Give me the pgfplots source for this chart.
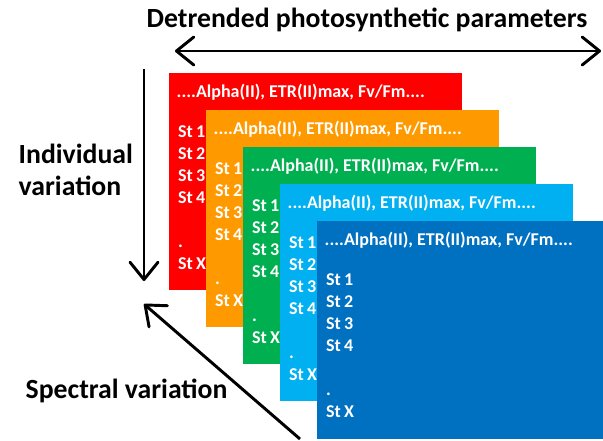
\documentclass[border=0pt]{standalone}
\usepackage{fontspec}
\setmainfont{Carlito}
\usepackage{pgfplots}
\pgfplotsset{compat=1.18}
\usetikzlibrary{arrows.meta}

\definecolor{cred}{HTML}{FF0000}
\definecolor{corange}{HTML}{FF9900}
\definecolor{cgreen}{HTML}{00B050}
\definecolor{clblue}{HTML}{00B0F0}
\definecolor{cdblue}{HTML}{0070C0}

\tikzset{
  ptxt/.style={anchor=base west, text=white, font=\fontsize{13.5}{15}\selectfont\bfseries},
  lbl/.style={anchor=base west, text=black, font=\fontsize{20.8}{22}\selectfont\bfseries},
  barb/.tip={Straight Barb[length=13pt,width=21pt,line cap=round,round]},
}

\newcommand\st[1]{St\hspace{0.17em}#1}

% text of one panel, #1 = left edge, #2 = top edge (pixels)
\newcommand\paneltext[2]{%
  \node[ptxt] at (axis cs:#1+3,#2+25) {....Alpha(II), ETR(II)max, Fv/Fm....};
  \node[ptxt] at (axis cs:#1+4.5,#2+64.5) {\st{1}};
  \node[ptxt] at (axis cs:#1+4.5,#2+86.5) {\st{2}};
  \node[ptxt] at (axis cs:#1+4.5,#2+108.5) {\st{3}};
  \node[ptxt] at (axis cs:#1+4.5,#2+130.5) {\st{4}};
  \node[ptxt] at (axis cs:#1+4.5,#2+174.5) {.};
  \node[ptxt] at (axis cs:#1+4.5,#2+196.5) {\st{X}};
}

\begin{document}
\begin{tikzpicture}
\begin{axis}[
    hide axis,
    scale only axis,
    width=452.25pt, height=329.25pt,
    xmin=0, xmax=603, ymin=0, ymax=439,
    y dir=reverse,
    clip=false,
    every node/.style={inner sep=0pt, outer sep=0pt},
    ]
\addplot[draw=none] coordinates {(0,0) (603,439)};

% panels, back to front
\addplot[draw=none, fill=cred] coordinates {(169,72.5) (462,72.5) (462,289.5) (169,289.5)} -- cycle;
\paneltext{169}{72.5}
\addplot[draw=none, fill=corange] coordinates {(206,109.5) (499,109.5) (499,326.5) (206,326.5)} -- cycle;
\paneltext{206}{109.5}
\addplot[draw=none, fill=cgreen] coordinates {(243,146.5) (536,146.5) (536,363.5) (243,363.5)} -- cycle;
\paneltext{243}{146.5}
\addplot[draw=none, fill=clblue] coordinates {(280,183.5) (573,183.5) (573,400.5) (280,400.5)} -- cycle;
\paneltext{280}{183.5}
\addplot[draw=none, fill=cdblue] coordinates {(317,220.5) (603,220.5) (603,439) (317,439)} -- cycle;
\paneltext{317}{220.5}

% arrows
\addplot[black, line width=2.2pt, barb-barb] coordinates {(175,51) (601,51)};
\addplot[black, line width=2.2pt, -barb] coordinates {(144,69) (144,281)};
\addplot[black, line width=2.2pt, -barb] coordinates {(300,439) (144,304)};

% labels
\node[lbl] at (axis cs:142,27) {Detrended photosynthetic parameters};
\node[lbl] at (axis cs:14,163) {Individual};
\node[lbl] at (axis cs:14,195) {variation};
\node[lbl] at (axis cs:21,398) {Spectral variation};
\end{axis}
\end{tikzpicture}
\end{document}
